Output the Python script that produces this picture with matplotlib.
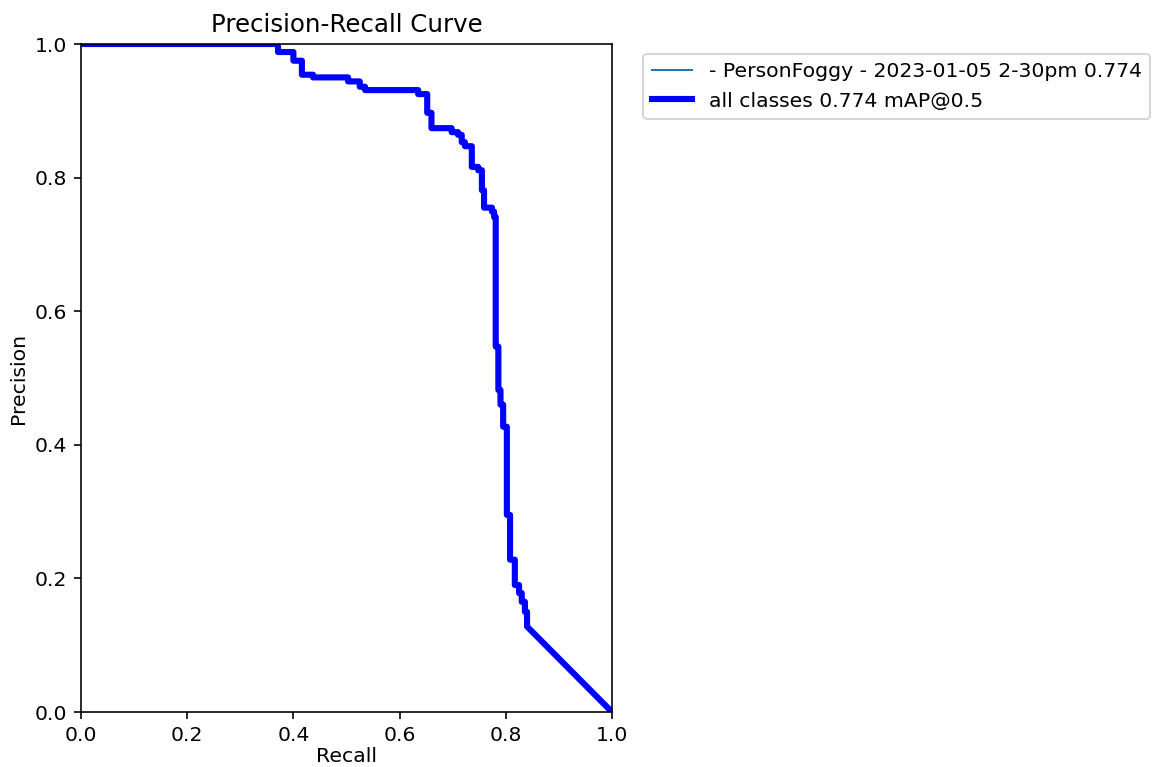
import numpy as np
import matplotlib
matplotlib.use('Agg')
import matplotlib.pyplot as plt

# step corners (recall where the level starts, precision level)
step_recall = [0.0, 0.371, 0.400, 0.416, 0.437, 0.503, 0.525, 0.535, 0.635, 0.652,
               0.660, 0.698, 0.710, 0.717, 0.723, 0.736, 0.748, 0.755, 0.759, 0.774,
               0.778, 0.781, 0.786, 0.790, 0.795, 0.802, 0.808, 0.817, 0.825, 0.830,
               0.836, 0.840]
step_precision = [1.0, 0.988, 0.975, 0.954, 0.950, 0.944, 0.936, 0.931, 0.925, 0.897,
                  0.874, 0.868, 0.864, 0.853, 0.847, 0.816, 0.811, 0.781, 0.755, 0.749,
                  0.741, 0.547, 0.482, 0.460, 0.427, 0.295, 0.228, 0.190, 0.178, 0.165,
                  0.150, 0.128]
end_recall = 1.0
end_precision = 0.0

class_label = '- PersonFoggy - 2023-01-05 2-30pm 0.774'
all_label = 'all classes 0.774 mAP@0.5'

# build the staircase vertices
r = np.repeat(step_recall, 2)[1:]
p = np.repeat(step_precision, 2)[:-1]
px = np.append(r, end_recall)
py = np.append(p, end_precision)

dpi = 147
fig, ax = plt.subplots(1, 1, figsize=(1155 / dpi, 767 / dpi), dpi=dpi)
ax.plot(px, py, linewidth=1, label=class_label)
ax.plot(px, py, linewidth=3, color='blue', label=all_label)
ax.set_xlabel('Recall', labelpad=1)
ax.set_ylabel('Precision', labelpad=3)
ax.set_xlim(0, 1)
ax.set_ylim(0, 1)
ax.legend(bbox_to_anchor=(1.04, 1), loc='upper left')
ax.set_title('Precision-Recall Curve')
fig.subplots_adjust(left=81 / 1155, right=612 / 1155, top=1 - 44 / 767, bottom=1 - 712 / 767)
fig.savefig('out.png', dpi=dpi)
